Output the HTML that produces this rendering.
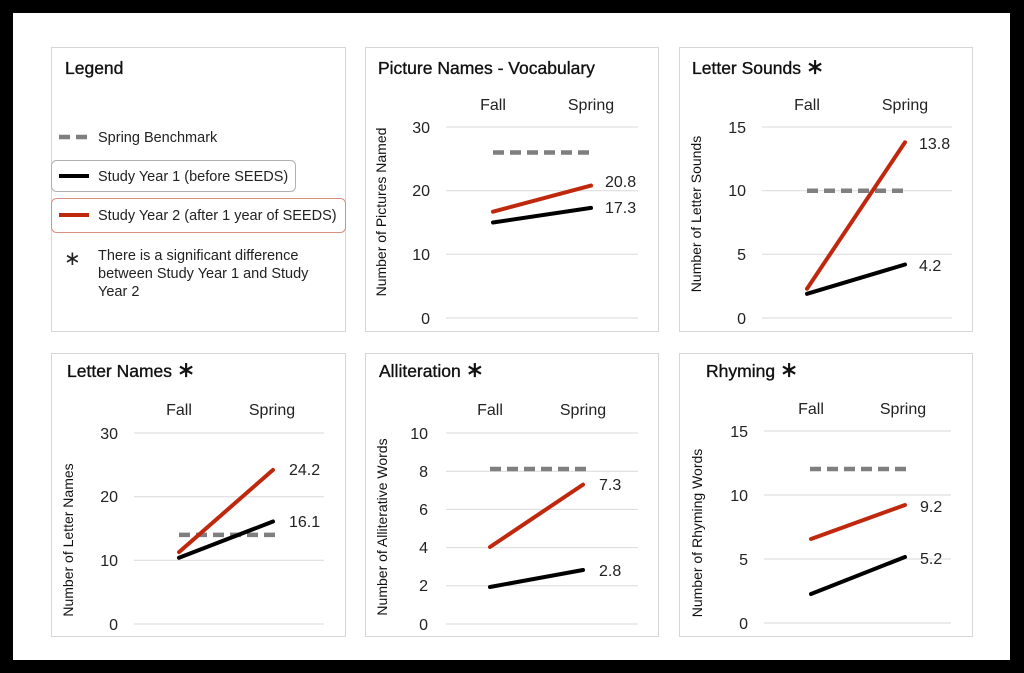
<!DOCTYPE html>
<html><head><meta charset="utf-8"><style>
html,body{margin:0;padding:0;background:#000;}
svg{display:block;font-family:"Liberation Sans",Arial,sans-serif;}
.t{font-size:17.5px;fill:#111;stroke:#111;stroke-width:0.35;}
.k{font-size:16px;fill:#222;}
.v{font-size:16px;fill:#222;}
.ax{font-size:14px;fill:#111;}
.g{stroke:#d9d9d9;stroke-width:1;}
.b{fill:#fff;stroke:#d6d6d6;stroke-width:1;}
.bm{stroke:#7f7f7f;stroke-width:4.5;stroke-dasharray:11,6;}
.r{stroke:#c0280e;stroke-width:4;stroke-linecap:round;}
.bl{stroke:#000;stroke-width:4;stroke-linecap:round;}
.st{font-size:22px;}
</style></head><body>
<svg width="1024" height="673" viewBox="0 0 1024 673">
<rect x="0" y="0" width="1024" height="673" fill="#000"/>
<rect x="13" y="13" width="997" height="647" fill="#fff"/>

<!-- Legend -->
<rect class="b" x="51.5" y="47.5" width="294" height="284"/>
<text class="t" x="65" y="74">Legend</text>
<line class="bm" x1="59" y1="137" x2="89" y2="137" stroke-dasharray="10,6"/>
<text x="98" y="142" style="font-size:14.5px" fill="#222">Spring Benchmark</text>
<rect x="51.5" y="160.5" width="244" height="31" rx="5" fill="#fff" stroke="#b0b0b0"/>
<line x1="59" y1="176" x2="89" y2="176" stroke="#000" stroke-width="4"/>
<text x="98" y="181" style="font-size:14.5px" fill="#222">Study Year 1 (before SEEDS)</text>
<rect x="51.5" y="198.5" width="294" height="34" rx="5" fill="#fff" stroke="#d9907e"/>
<line x1="59" y1="215" x2="89" y2="215" stroke="#c0280e" stroke-width="4"/>
<text x="98" y="220" style="font-size:14.5px" fill="#222">Study Year 2 (after 1 year of SEEDS)</text>
<text x="64" y="265" style="font-size:20px" fill="#222">∗</text>
<text x="98" y="260" style="font-size:14.5px" fill="#222">There is a significant difference</text>
<text x="98" y="278" style="font-size:14.5px" fill="#222">between Study Year 1 and Study</text>
<text x="98" y="296" style="font-size:14.5px" fill="#222">Year 2</text>

<!-- Panel A: Picture Names -->
<rect class="b" x="365.5" y="47.5" width="293" height="284"/>
<text class="t" x="378" y="74">Picture Names - Vocabulary</text>
<text class="k" x="493" y="110" text-anchor="middle">Fall</text>
<text class="k" x="591" y="110" text-anchor="middle">Spring</text>
<line class="g" x1="446" y1="127" x2="638" y2="127"/>
<line class="g" x1="446" y1="190.7" x2="638" y2="190.7"/>
<line class="g" x1="446" y1="254.3" x2="638" y2="254.3"/>
<line class="g" x1="446" y1="318" x2="638" y2="318"/>
<text class="k" x="430" y="133" text-anchor="end">30</text>
<text class="k" x="430" y="196" text-anchor="end">20</text>
<text class="k" x="430" y="260" text-anchor="end">10</text>
<text class="k" x="430" y="324" text-anchor="end">0</text>
<text class="ax" transform="translate(386,212) rotate(-90)" text-anchor="middle">Number of Pictures Named</text>
<line class="bm" x1="493" y1="152.5" x2="591" y2="152.5"/>
<line class="r" x1="493" y1="211.7" x2="591" y2="185.6"/>
<line class="bl" x1="493" y1="222.5" x2="591" y2="207.9"/>
<text class="v" x="605" y="187">20.8</text>
<text class="v" x="605" y="213">17.3</text>

<!-- Panel B: Letter Sounds -->
<rect class="b" x="679.5" y="47.5" width="293" height="284"/>
<text class="t" x="692" y="74">Letter Sounds <tspan class="st">∗</tspan></text>
<text class="k" x="807" y="110" text-anchor="middle">Fall</text>
<text class="k" x="905" y="110" text-anchor="middle">Spring</text>
<line class="g" x1="762" y1="127" x2="952" y2="127"/>
<line class="g" x1="762" y1="190.7" x2="952" y2="190.7"/>
<line class="g" x1="762" y1="254.3" x2="952" y2="254.3"/>
<line class="g" x1="762" y1="318" x2="952" y2="318"/>
<text class="k" x="746" y="133" text-anchor="end">15</text>
<text class="k" x="746" y="196" text-anchor="end">10</text>
<text class="k" x="746" y="260" text-anchor="end">5</text>
<text class="k" x="746" y="324" text-anchor="end">0</text>
<text class="ax" transform="translate(701,214) rotate(-90)" text-anchor="middle">Number of Letter Sounds</text>
<line class="bm" x1="807" y1="190.7" x2="905" y2="190.7"/>
<line class="r" x1="807" y1="288.7" x2="905" y2="142.3"/>
<line class="bl" x1="807" y1="293.8" x2="905" y2="264.5"/>
<text class="v" x="919" y="149">13.8</text>
<text class="v" x="919" y="271">4.2</text>

<!-- Panel C: Letter Names -->
<rect class="b" x="51.5" y="353.5" width="294" height="283"/>
<text class="t" x="67" y="377">Letter Names <tspan class="st">∗</tspan></text>
<text class="k" x="179" y="415" text-anchor="middle">Fall</text>
<text class="k" x="272" y="415" text-anchor="middle">Spring</text>
<line class="g" x1="134" y1="433" x2="324" y2="433"/>
<line class="g" x1="134" y1="496.7" x2="324" y2="496.7"/>
<line class="g" x1="134" y1="560.3" x2="324" y2="560.3"/>
<line class="g" x1="134" y1="624" x2="324" y2="624"/>
<text class="k" x="118" y="439" text-anchor="end">30</text>
<text class="k" x="118" y="502" text-anchor="end">20</text>
<text class="k" x="118" y="566" text-anchor="end">10</text>
<text class="k" x="118" y="630" text-anchor="end">0</text>
<text class="ax" transform="translate(73,540) rotate(-90)" text-anchor="middle">Number of Letter Names</text>
<line class="bm" x1="179" y1="534.9" x2="277" y2="534.9"/>
<line class="r" x1="179" y1="552.1" x2="273" y2="469.9"/>
<line class="bl" x1="179" y1="557.8" x2="273" y2="521.5"/>
<text class="v" x="289" y="475">24.2</text>
<text class="v" x="289" y="527">16.1</text>

<!-- Panel D: Alliteration -->
<rect class="b" x="365.5" y="353.5" width="293" height="283"/>
<text class="t" x="379" y="377">Alliteration <tspan class="st">∗</tspan></text>
<text class="k" x="490" y="415" text-anchor="middle">Fall</text>
<text class="k" x="583" y="415" text-anchor="middle">Spring</text>
<line class="g" x1="446" y1="433" x2="638" y2="433"/>
<line class="g" x1="446" y1="471.2" x2="638" y2="471.2"/>
<line class="g" x1="446" y1="509.4" x2="638" y2="509.4"/>
<line class="g" x1="446" y1="547.6" x2="638" y2="547.6"/>
<line class="g" x1="446" y1="585.8" x2="638" y2="585.8"/>
<line class="g" x1="446" y1="624" x2="638" y2="624"/>
<text class="k" x="428" y="439" text-anchor="end">10</text>
<text class="k" x="428" y="477" text-anchor="end">8</text>
<text class="k" x="428" y="515" text-anchor="end">6</text>
<text class="k" x="428" y="553" text-anchor="end">4</text>
<text class="k" x="428" y="591" text-anchor="end">2</text>
<text class="k" x="428" y="630" text-anchor="end">0</text>
<text class="ax" transform="translate(387,527) rotate(-90)" text-anchor="middle">Number of Alliterative Words</text>
<line class="bm" x1="490" y1="469" x2="586" y2="469"/>
<line class="r" x1="490" y1="547" x2="583" y2="484.6"/>
<line class="bl" x1="490" y1="587" x2="583" y2="570"/>
<text class="v" x="599" y="490">7.3</text>
<text class="v" x="599" y="576">2.8</text>

<!-- Panel E: Rhyming -->
<rect class="b" x="679.5" y="353.5" width="293" height="283"/>
<text class="t" x="706" y="377">Rhyming <tspan class="st">∗</tspan></text>
<text class="k" x="811" y="414" text-anchor="middle">Fall</text>
<text class="k" x="903" y="414" text-anchor="middle">Spring</text>
<line class="g" x1="764" y1="431" x2="951" y2="431"/>
<line class="g" x1="764" y1="495" x2="951" y2="495"/>
<line class="g" x1="764" y1="559" x2="951" y2="559"/>
<line class="g" x1="764" y1="623" x2="951" y2="623"/>
<text class="k" x="748" y="437" text-anchor="end">15</text>
<text class="k" x="748" y="501" text-anchor="end">10</text>
<text class="k" x="748" y="565" text-anchor="end">5</text>
<text class="k" x="748" y="629" text-anchor="end">0</text>
<text class="ax" transform="translate(702,533) rotate(-90)" text-anchor="middle">Number of Rhyming Words</text>
<line class="bm" x1="810" y1="469" x2="906" y2="469"/>
<line class="r" x1="811" y1="539" x2="905" y2="505"/>
<line class="bl" x1="811" y1="594" x2="905" y2="557"/>
<text class="v" x="920" y="512">9.2</text>
<text class="v" x="920" y="564">5.2</text>
</svg>
</body></html>
